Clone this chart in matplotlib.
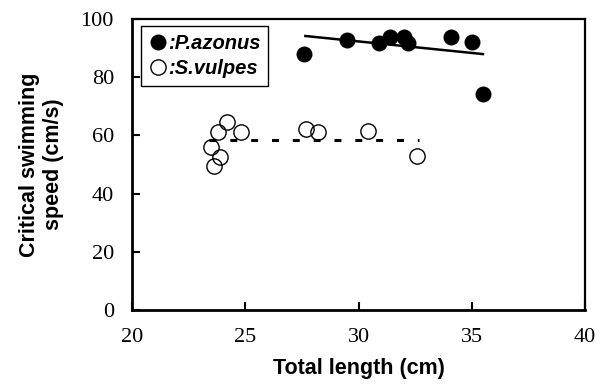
import matplotlib
matplotlib.use("Agg")
import matplotlib.pyplot as plt
from matplotlib.font_manager import FontProperties

# Total length (cm) and critical swimming speed (cm/s) for each species
pa_length = [27.6, 29.5, 30.9, 31.4, 32.0, 32.2, 34.1, 35.0, 35.5]
pa_speed = [87.9, 92.8, 91.6, 93.7, 93.9, 91.9, 93.9, 92.2, 74.2]

sv_length = [23.5, 23.8, 24.2, 24.8, 23.9, 23.6, 27.7, 28.2, 30.4, 32.6]
sv_speed = [56.1, 61.3, 64.5, 61.3, 52.7, 49.5, 62.1, 61.3, 61.6, 53.0]

# Fitted trend lines (end points)
pa_fit_x = [27.6, 35.55]
pa_fit_y = [94.2, 87.9]
sv_fit_x = [23.4, 32.67]
sv_fit_y = [58.4, 58.4]

x_ticks = [20, 25, 30, 35, 40]
y_ticks = [0, 20, 40, 60, 80, 100]

plt.rcParams["lines.scale_dashes"] = False

fig = plt.figure(figsize=(6.05, 3.86), dpi=100)
ax = fig.add_axes([132 / 605, 1 - 310 / 386, 453 / 605, 291 / 386])

# Trend lines
ax.plot(pa_fit_x, pa_fit_y, color="black", linewidth=1.8, solid_capstyle="butt", zorder=2)
ax.plot(sv_fit_x, sv_fit_y, color="black", linewidth=2.2, dashes=(5, 10),
        dash_capstyle="butt", zorder=2)

# Data points
pa, = ax.plot(pa_length, pa_speed, "o", color="black", markersize=11.5,
              markeredgewidth=0, linestyle="none", zorder=3)
sv, = ax.plot(sv_length, sv_speed, "o", markerfacecolor="none", markeredgecolor="black",
              markersize=11.0, markeredgewidth=1.0, linestyle="none", zorder=3)

ax.set_xlim(20, 40)
ax.set_ylim(0, 100)
ax.set_xticks(x_ticks)
ax.set_yticks(y_ticks)
ax.set_xticklabels([str(t) for t in x_ticks], family="Liberation Serif", fontsize=16)
ax.set_yticklabels([str(t) for t in y_ticks], family="Liberation Serif", fontsize=16)
ax.tick_params(axis="both", direction="in", length=5.5, width=1.5, color="black")
ax.tick_params(axis="x", pad=13)
ax.tick_params(axis="y", pad=13)

for side in ["left", "bottom"]:
    ax.spines[side].set_linewidth(2.0)
for side in ["top", "right"]:
    ax.spines[side].set_linewidth(1.6)

ax.set_xlabel("Total length (cm)", family="Liberation Sans", fontweight="bold",
              fontsize=15.5, labelpad=8)
ax.set_ylabel("Critical swimming\nspeed (cm/s)", family="Liberation Sans", fontweight="bold",
              fontsize=15.5, labelpad=12, linespacing=1.2)

# Legend box in the upper left corner
leg = ax.legend([pa, sv], [":P.azonus", ":S.vulpes"], loc="upper left",
                bbox_to_anchor=(0.019, 0.976), borderaxespad=0, frameon=True,
                fancybox=False, edgecolor="black", framealpha=1,
                handlelength=0.9, handletextpad=0.05, borderpad=0.4, labelspacing=0.3,
                prop=FontProperties(family="Liberation Sans", weight="bold",
                                    style="italic", size=14.5))
leg.get_frame().set_linewidth(1.0)

fig.savefig("out.png", dpi=100)
